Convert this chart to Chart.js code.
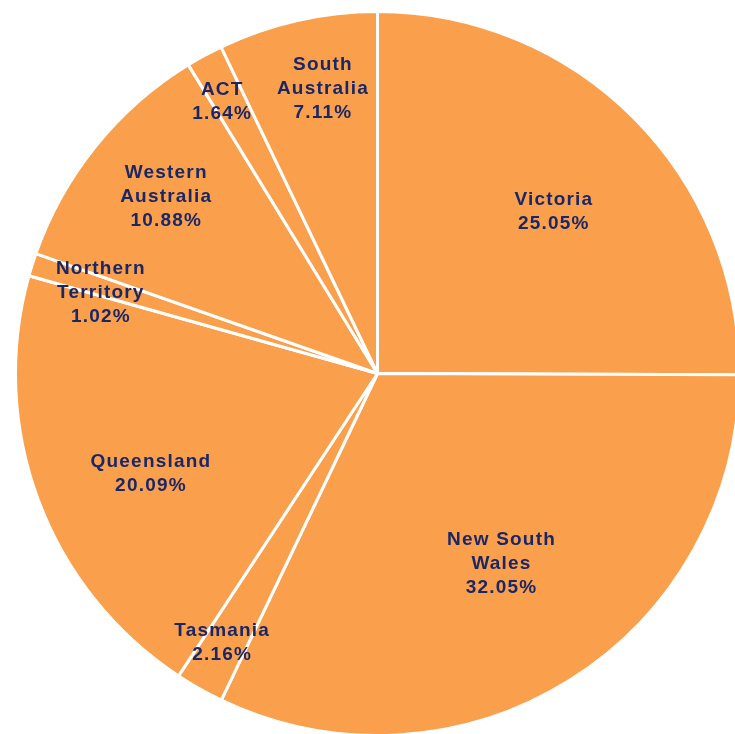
<!DOCTYPE html>
<html>
<head>
<meta charset="utf-8">
<script src="https://cdn.jsdelivr.net/npm/chart.js@4/dist/chart.umd.min.js"></script>
<style>
  html, body { margin: 0; padding: 0; background: #fff; overflow: hidden; }
  .wrap { position: relative; width: 770px; height: 770px; }
</style>
</head>
<body>
<div class="wrap"><canvas id="pieChart" width="770" height="770"></canvas></div>
<script>
  const categories = ['Victoria', 'New South Wales', 'Tasmania', 'Queensland', 'Northern Territory', 'Western Australia', 'ACT', 'South Australia'];
  const shares = [25.05, 32.05, 2.16, 20.09, 1.02, 10.88, 1.64, 7.11];

  // label placement: fraction of the radius and a small turn (degrees) off the slice middle
  const labelRadius = [0.662, 0.625, 0.857, 0.683, 0.797, 0.762, 0.867, 0.804];
  const labelTurn = [2.3, -1.1, 0.6, -3.1, -1.0, 1.1, -1.1, 2.0];

  const splitName = (name) => {
    const cut = name.lastIndexOf(' ');
    return cut < 0 ? [name] : [name.slice(0, cut), name.slice(cut + 1)];
  };

  const sliceLabels = {
    id: 'sliceLabels',
    afterDatasetsDraw(chart) {
      const { ctx } = chart;
      const meta = chart.getDatasetMeta(0);
      ctx.save();
      ctx.font = 'bold 19px "Liberation Sans", Arial, sans-serif';
      ctx.letterSpacing = '1.2px';
      ctx.fillStyle = '#1a2767';
      ctx.textAlign = 'center';
      ctx.textBaseline = 'middle';
      meta.data.forEach((arc, i) => {
        const mid = (arc.startAngle + arc.endAngle) / 2 + labelTurn[i] * Math.PI / 180;
        const r = arc.outerRadius * labelRadius[i];
        const x = arc.x + Math.cos(mid) * r;
        const y = arc.y + Math.sin(mid) * r + 1;
        const lines = splitName(categories[i]).concat(shares[i].toFixed(2) + '%');
        const lh = 24;
        const top = y - (lines.length - 1) * lh / 2;
        lines.forEach((line, k) => ctx.fillText(line, x, top + k * lh));
      });
      ctx.restore();
    }
  };

  new Chart(document.getElementById('pieChart'), {
    type: 'pie',
    data: {
      labels: categories,
      datasets: [{
        data: shares,
        backgroundColor: '#fa9f4c',
        borderColor: '#ffffff',
        borderWidth: 3
      }]
    },
    options: {
      responsive: false,
      animation: false,
      events: [],
      layout: { padding: { left: 14, top: 10, right: 29, bottom: 33 } },
      plugins: { legend: { display: false }, tooltip: { enabled: false } }
    },
    plugins: [sliceLabels]
  });
</script>
</body>
</html>
